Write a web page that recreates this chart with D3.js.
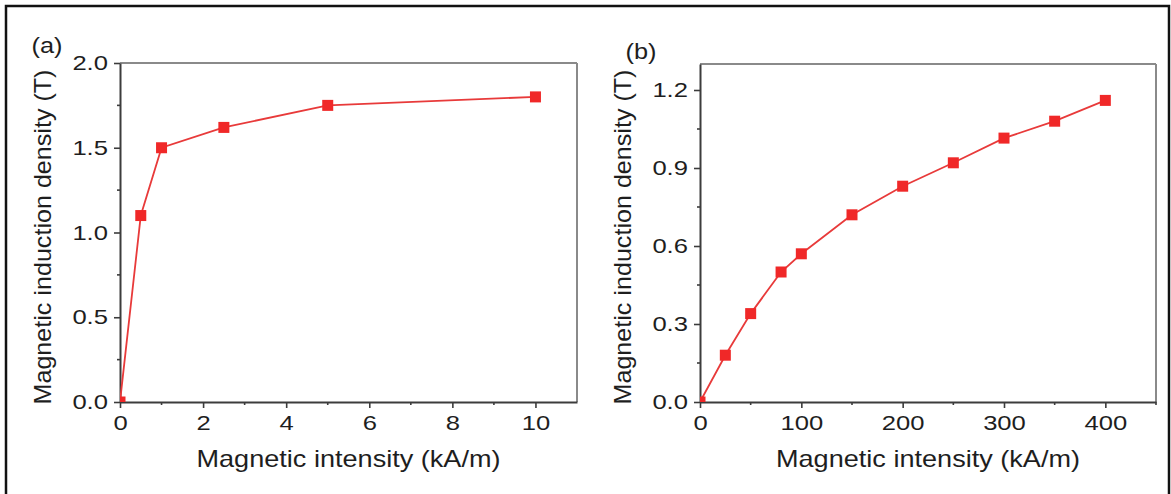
<!DOCTYPE html>
<html><head><meta charset="utf-8">
<script src="https://cdn.jsdelivr.net/npm/d3@7"></script>
<style>
html,body{margin:0;padding:0;background:#fff;}
svg{display:block;}
text{font-family:"Liberation Sans",Arial,sans-serif;fill:#1e1e1e;}
</style></head>
<body><svg id="c" width="1171" height="494"></svg>
<script>
// ---- data ----
const aX = [0, 0.5, 1, 2.5, 5, 10];
const aY = [0, 1.1, 1.5, 1.62, 1.75, 1.8];
const bX = [0, 25, 50, 80, 100, 150, 200, 250, 300, 350, 400];
const bY = [0, 0.18, 0.34, 0.50, 0.57, 0.72, 0.83, 0.92, 1.015, 1.08, 1.16];
const aXTicks = [0, 2, 4, 6, 8, 10];
const aXMinor = [1, 3, 5, 7, 9];
const aYTicks = [0, 0.5, 1.0, 1.5, 2.0];
const aYMinor = [0.25, 0.75, 1.25, 1.75];
const bXTicks = [0, 100, 200, 300, 400];
const bXMinor = [50, 150, 250, 350, 450];
const bYTicks = [0, 0.3, 0.6, 0.9, 1.2];
const bYMinor = [0.15, 0.45, 0.75, 1.05];
const xTitle = "Magnetic intensity (kA/m)";
const yTitle = "Magnetic induction density (T)";

const svg = d3.select("#c");
// outer frame
svg.append("path").attr("d","M6,500 L6,6 L1169,6 L1169,500")
  .attr("fill","none").attr("stroke","#111").attr("stroke-width",2.5);

function stretch(sel, f){
  sel.each(function(){
    const w = this.getComputedTextLength();
    d3.select(this).attr("textLength", w*f).attr("lengthAdjust","spacingAndGlyphs");
  });
}

function panel(cfg){
  const {id,x0,x1,y0,y1,xd,yd,xs,ys,xt,xm,yt,ym,label,lx,ly,ytx} = cfg;
  const x = d3.scaleLinear().domain(xd).range([x0,x1]);
  const y = d3.scaleLinear().domain(yd).range([y0,y1]);
  const g = svg.append("g");
  // top & right frame
  g.append("line").attr("x1",x0).attr("x2",x1).attr("y1",y1).attr("y2",y1).attr("stroke","#8a8a8a").attr("stroke-width",2);
  g.append("line").attr("x1",x1).attr("x2",x1).attr("y1",y1).attr("y2",y0).attr("stroke","#8a8a8a").attr("stroke-width",2);
  // x axis
  const xa = g.append("g").attr("transform",`translate(0,${y0})`)
    .call(d3.axisBottom(x).tickValues(xt).tickSize(6).tickSizeOuter(0).tickPadding(7).tickFormat(d3.format("d")));
  xa.append("g").selectAll("line").data(xm).join("line")
    .attr("x1",d=>x(d)).attr("x2",d=>x(d)).attr("y1",0).attr("y2",3);
  const ya = g.append("g").attr("transform",`translate(${x0},0)`)
    .call(d3.axisLeft(y).tickValues(yt).tickSize(6).tickSizeOuter(0).tickPadding(6).tickFormat(d3.format(".1f")));
  ya.append("g").selectAll("line").data(ym).join("line")
    .attr("y1",d=>y(d)).attr("y2",d=>y(d)).attr("x1",0).attr("x2",-3);
  [xa,ya].forEach(a=>{
    a.select(".domain").attr("stroke","#3c3c3c").attr("stroke-width",2);
    a.selectAll("line").attr("stroke","#3c3c3c").attr("stroke-width",1.6);
    a.selectAll("text").attr("font-size",21).attr("fill","#1e1e1e").style("font-family","Liberation Sans, Arial, sans-serif");
    stretch(a.selectAll(".tick text"), 1.22);
  });
  // clip
  svg.append("clipPath").attr("id","clip"+id).append("rect")
    .attr("x",x0).attr("y",y1).attr("width",x1-x0).attr("height",y0-y1);
  const pts = xs.map((v,i)=>[v,ys[i]]);
  const pg = g.append("g").attr("clip-path",`url(#clip${id})`);
  pg.append("path").datum(pts)
    .attr("d",d3.line().x(d=>x(d[0])).y(d=>y(d[1])))
    .attr("fill","none").attr("stroke","#e83a3a").attr("stroke-width",1.8);
  pg.selectAll("rect").data(pts).join("rect")
    .attr("x",d=>x(d[0])-5.5).attr("y",d=>y(d[1])-5.5)
    .attr("width",11).attr("height",11).attr("fill","#f02828");
  // titles
  g.append("text").attr("x",(x0+x1)/2).attr("y",467).attr("text-anchor","middle")
    .attr("font-size",24).attr("textLength",304).attr("lengthAdjust","spacingAndGlyphs").text(xTitle);
  g.append("text").attr("transform",`translate(${ytx},237) rotate(-90)`).attr("text-anchor","middle")
    .attr("font-size",24).attr("textLength",335).attr("lengthAdjust","spacingAndGlyphs").text(yTitle);
  const lt = g.append("text").attr("x",lx).attr("y",ly).attr("text-anchor","middle").attr("font-size",22).text(label);
  stretch(lt, 1.15);
}

panel({id:"a",x0:120,x1:577,y0:402,y1:63,xd:[0,11],yd:[0,2.0],xs:aX,ys:aY,
  xt:aXTicks,xm:aXMinor,yt:aYTicks,ym:aYMinor,label:"(a)",lx:47,ly:53,ytx:51});
panel({id:"b",x0:700,x1:1156,y0:402,y1:64,xd:[0,450],yd:[0,1.3],xs:bX,ys:bY,
  xt:bXTicks,xm:bXMinor,yt:bYTicks,ym:bYMinor,label:"(b)",lx:641,ly:59,ytx:631});
</script></body></html>
